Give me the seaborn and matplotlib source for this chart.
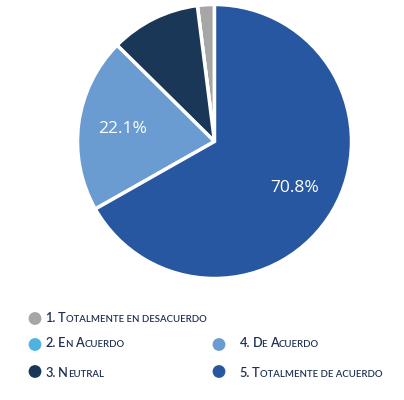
import matplotlib
matplotlib.use("Agg")
import matplotlib.pyplot as plt
import seaborn as sns

# slice sizes (share of the circle, %)
categories = ["1. Totalmente en desacuerdo", "2. En Acuerdo", "3. Neutral",
              "4. De Acuerdo", "5. Totalmente de acuerdo"]
shares = [2.0, 0.0, 10.6, 20.6, 66.8]
# the percentages printed on the slices
slice_labels = ["", "", "", "22.1%", "70.8%"]
colors = ["#a6a6a6", "#4fb3e2", "#1a3757", "#6a9bd1", "#2757a0"]

sns.set_theme(style="white")
plt.rcParams["font.family"] = ["Lato", "DejaVu Sans"]

fig = plt.figure(figsize=(4.04, 4.0), dpi=100)

ax = fig.add_axes([77.5 / 404, 121.5 / 400, 274 / 404, 274 / 400])
wedges, texts = ax.pie(shares, colors=colors, startangle=90, counterclock=True,
                       labels=slice_labels, labeldistance=0.68,
                       wedgeprops=dict(edgecolor="white", linewidth=2.5),
                       textprops=dict(color="white", fontsize=12.5, family="Open Sans"))
for t in texts:
    t.set_ha("center")
    t.set_va("center")
ax.set_xlim(-1, 1)
ax.set_ylim(-1, 1)

# legend drawn by hand in pixel coordinates, with small caps text
lax = fig.add_axes([0, 0, 1, 1])
lax.set_xlim(0, 404)
lax.set_ylim(400, 0)
lax.axis("off")

text_color = "#1f3152"


def small_caps(x, y, s, big=9.2, small=6.9):
    runs = []
    for ch in s:
        size = small if (ch.islower() or ch == " ") else big
        if runs and runs[-1][1] == size:
            runs[-1][0] += ch.upper()
        else:
            runs.append([ch.upper(), size])
    prev = None
    for txt, size in runs:
        if prev is None:
            prev = lax.text(x, y, txt, fontsize=size, color=text_color,
                            ha="left", va="baseline", fontweight="semibold")
        else:
            prev = lax.annotate(txt, xy=(1, y), xycoords=(prev, "data"),
                                fontsize=size, color=text_color,
                                ha="left", va="baseline", fontweight="semibold")


marker_pos = [(35, 318.5), (35, 344.5), (35, 371.5), (219, 344.5), (219, 371.5)]
text_pos = [(45.5, 321.7), (45.5, 347.3), (45.5, 377.0), (239.5, 347.3), (239.5, 377.0)]
for name, col, (mx, my), (tx, ty) in zip(categories, colors, marker_pos, text_pos):
    lax.scatter([mx], [my], s=85, color=col, edgecolor="none")
    small_caps(tx, ty, name)

fig.savefig("out.png", dpi=100)
